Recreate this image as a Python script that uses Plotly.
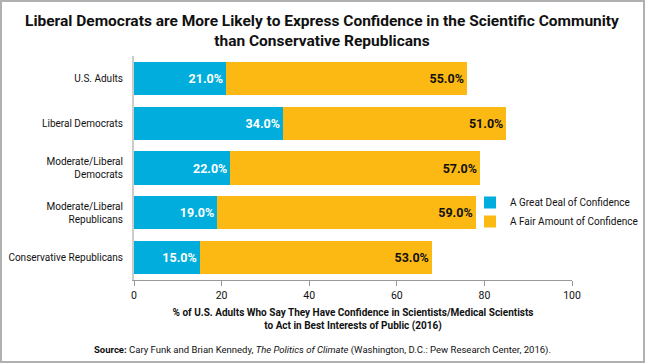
import plotly.graph_objects as go

categories = ["U.S. Adults", "Liberal Democrats", "Moderate/Liberal<br>Democrats",
              "Moderate/Liberal<br>Republicans", "Conservative Republicans"]
great_deal = [21.0, 34.0, 22.0, 19.0, 15.0]
fair_amount = [55.0, 51.0, 57.0, 59.0, 53.0]
series_names = ["A Great Deal of Confidence", "A Fair Amount of Confidence"]
x_ticks = [0, 20, 40, 60, 80, 100]

W, H = 645, 363
ML, MR, MT, MB = 134, 73, 56, 83
PW, PH = W - ML - MR, H - MT - MB

BLUE = "#00ADDC"
GOLD = "#FDB913"
FONT = "Roboto"

fig = go.Figure()
fig.add_trace(go.Bar(
    y=categories, x=great_deal, orientation="h", name=series_names[0],
    marker=dict(color=BLUE, line=dict(width=0)),
    text=[f"{v:.1f}%" for v in great_deal], textposition="inside",
    insidetextanchor="end",
    textfont=dict(color="white", size=12.5, family=FONT, weight="bold"),
))
fig.add_trace(go.Bar(
    y=categories, x=fair_amount, orientation="h", name=series_names[1],
    marker=dict(color=GOLD, line=dict(width=0)),
    text=[f"{v:.1f}%" for v in fair_amount], textposition="inside",
    insidetextanchor="end",
    textfont=dict(color="#111111", size=12.5, family=FONT, weight="bold"),
))

fig.update_layout(
    width=W, height=H,
    margin=dict(l=ML, r=MR, t=MT, b=MB, autoexpand=False),
    barmode="stack", bargap=0.26,
    plot_bgcolor="white", paper_bgcolor="white",
    font=dict(family=FONT, size=10, color="#111111"),
    xaxis=dict(
        range=[0, 100], tickvals=x_ticks, showgrid=False, zeroline=False,
        showline=True, linecolor="#999999", linewidth=1,
        ticks="outside", ticklen=5, tickcolor="#999999",
        tickfont=dict(size=10.5, color="#111111"), automargin=False,
        title=dict(text="<b>% of U.S. Adults Who Say They Have Confidence in Scientists/Medical Scientists<br>to Act in Best Interests of Public (2016)</b>",
                   font=dict(size=10, color="#111111"), standoff=8),
        fixedrange=True,
    ),
    yaxis=dict(
        categoryorder="array", categoryarray=categories, autorange="reversed",
        showgrid=False, zeroline=False, showline=True, linecolor="#cccccc", linewidth=2,
        ticks="", ticklabelstandoff=7, tickfont=dict(size=10, color="#111111"),
        automargin=False, fixedrange=True,
    ),
    legend=dict(
        x=(470 - ML) / PW, y=(H - MB - 188) / PH, xanchor="left", yanchor="top",
        traceorder="normal", bgcolor="rgba(0,0,0,0)",
        font=dict(size=10, color="#111111"), itemwidth=30, tracegroupgap=4,
    ),
    showlegend=True,
)

# title as annotation
fig.add_annotation(
    text="<b>Liberal Democrats are More Likely to Express Confidence in the Scientific Community<br>than Conservative Republicans</b>",
    xref="paper", yref="paper", x=(322 - ML) / PW, y=1 + (MT - 10) / PH,
    xanchor="center", yanchor="top", showarrow=False, align="center",
    font=dict(size=15.5, family=FONT, color="#111111"),
)

fig.add_annotation(
    text="<b>Source:</b> Cary Funk and Brian Kennedy, <i>The Politics of Climate</i> (Washington, D.C.: Pew Research Center, 2016).",
    xref="paper", yref="paper", x=(322 - ML) / PW, y=-(350 - (H - MB)) / PH,
    xanchor="center", yanchor="middle", showarrow=False,
    font=dict(size=9.5, color="#111111"),
)

# outer gray frame
fig.add_shape(
    type="rect", xref="paper", yref="paper",
    x0=-(ML - 1) / PW, x1=1 + (MR - 1) / PW,
    y0=-(MB - 1) / PH, y1=1 + (MT - 1) / PH,
    line=dict(color="#b0b0b0", width=2), layer="above",
)

fig.write_html("out.html", config={"displayModeBar": False},
               post_script="document.body.style.margin='0';document.body.style.overflow='hidden';")
